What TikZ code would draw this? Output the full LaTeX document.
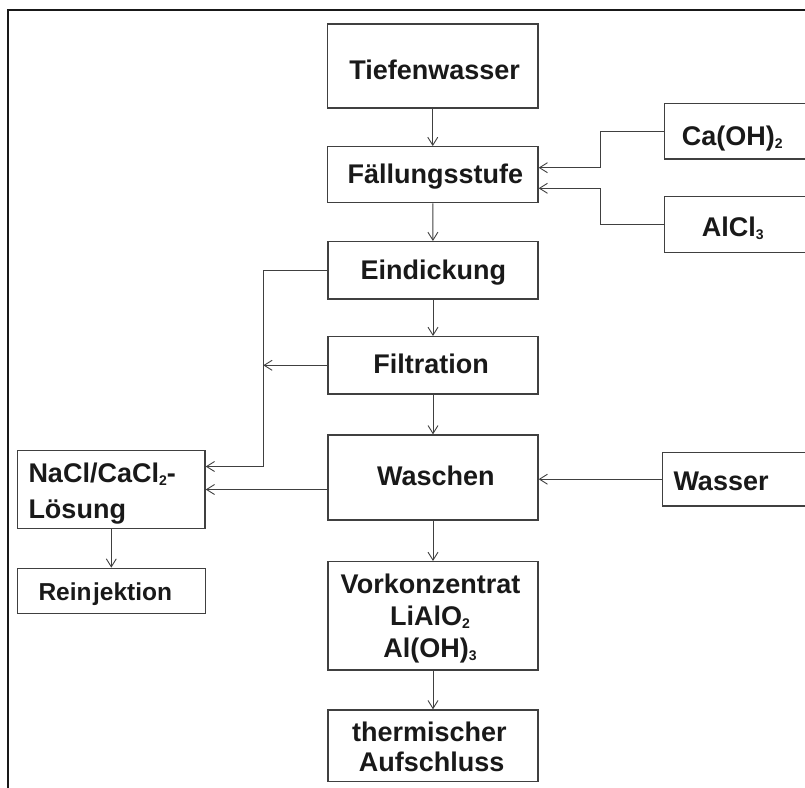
\documentclass[tikz,border=0pt]{standalone}
\usepackage{fontspec}
\setmainfont{Liberation Sans}
\usetikzlibrary{arrows.meta,calc}
\newcommand\chsub[1]{\raisebox{-3pt}{\fontsize{14}{14}\selectfont #1}}
\begin{document}
\begin{tikzpicture}[x=1pt,y=-1pt,
  box/.style={draw=black!75,line width=1.3pt,inner sep=0pt,fill=none},
  txt/.style={inner sep=0pt,text=black!90,font=\fontsize{27}{32}\selectfont\bfseries},
  stxt/.style={inner sep=0pt,text=black!90,font=\fontsize{24.5}{28}\selectfont\bfseries},
  arr/.style={draw=black!75,line width=0.9pt,-{Straight Barb[length=8pt,width=10pt]}},
  ln/.style={draw=black!75,line width=0.9pt}]
\useasboundingbox (0,0) rectangle (805,787);
\draw[line width=2pt,black!90] (8,795) -- (8,10) -- (812,10);
% boxes
\node[box,minimum width=210.5pt,minimum height=84pt] (tief) at (432.75,66) {};
\node[box,minimum width=210.5pt,minimum height=56pt] (fall) at (432.75,174.7) {};
\node[box,minimum width=210pt,minimum height=57.3pt] (eind) at (433,270.3) {};
\node[box,minimum width=210pt,minimum height=57.3pt] (filt) at (433,365.3) {};
\node[box,minimum width=210pt,minimum height=85pt] (wasch) at (433,477.5) {};
\node[box,minimum width=210pt,minimum height=108.3pt] (vork) at (433,615.8) {};
\node[box,minimum width=210pt,minimum height=71.7pt] (therm) at (433,745.8) {};
\node[box,minimum width=160pt,minimum height=55.7pt] (caoh) at (744.3,131.2) {};
\node[box,minimum width=160pt,minimum height=55.6pt] (alcl) at (744.3,224.5) {};
\node[box,minimum width=160pt,minimum height=53.7pt] (wasser) at (742.7,479.2) {};
\node[box,minimum width=187.5pt,minimum height=77.6pt] (nacl) at (111.3,489.5) {};
\node[box,minimum width=188pt,minimum height=45pt] (reinj) at (111.7,590.8) {};
% texts
\node[txt,anchor=base] (t1) at (434.7,79) {Tiefenwasser};
\node[txt,anchor=base] (t2) at (435.3,183.3) {Fällungsstufe};
\node[txt,anchor=base] (t3) at (433.3,279.3) {Eindickung};
\node[txt,anchor=base] (t4) at (431.2,373.3) {Filtration};
\node[txt,anchor=base] (t5) at (435.8,485) {Waschen};
\node[txt,anchor=base] (t6a) at (430.5,593.3) {Vorkonzentrat};
\node[txt,anchor=base] (t6b) at (430,625.5) {LiAlO\chsub{2}};
\node[txt,anchor=base] (t6c) at (430,657.5) {Al(OH)\chsub{3}};
\node[txt,anchor=base] (t7a) at (429.3,741.7) {thermischer};
\node[txt,anchor=base] (t7b) at (431.7,771.7) {Aufschluss};
\node[txt,anchor=base west] (t8) at (681.7,145) {Ca(OH)\chsub{2}};
\node[txt,anchor=base west] (t9) at (701.7,236.7) {AlCl\chsub{3}};
\node[txt,anchor=base west] (t10) at (673.3,490) {Wasser};
\node[txt,anchor=base west] (t11a) at (28.3,482.7) {NaCl/CaCl\chsub{2}-};
\node[txt,anchor=base west] (t11b) at (28.3,518.7) {Lösung};
\node[stxt,anchor=base west] (t12) at (38.3,600) {Rein\kern1.5pt jektion};
% connectors
\coordinate (jca) at (600,167.7);
\coordinate (jal) at (600,188.3);
\coordinate (jf) at (263.3,364.3);
\draw[arr] (tief) -- (fall);
\draw[arr] (fall) -- (eind);
\draw[arr] (eind) -- (filt);
\draw[arr] (filt) -- (wasch);
\draw[arr] (wasch) -- (vork);
\draw[arr] (vork) -- (therm);
\draw[arr] (nacl.south) -- (nacl.south |- reinj.north);
\draw[arr] (caoh.west) -| (jca) -- (jca -| fall.east);
\draw[arr] (alcl.west) -| (jal) -- (jal -| fall.east);
\draw[arr] (wasser.west) -- (wasser.west -| wasch.east);
\draw[arr] (filt.west) -- (filt.west -| jf);
\draw[arr] (eind.west) -- (eind.west -| jf) |- ([yshift=23pt]nacl.east);
\draw[arr] (wasch.west |- nacl.east) -- (nacl.east);
\end{tikzpicture}
\end{document}
